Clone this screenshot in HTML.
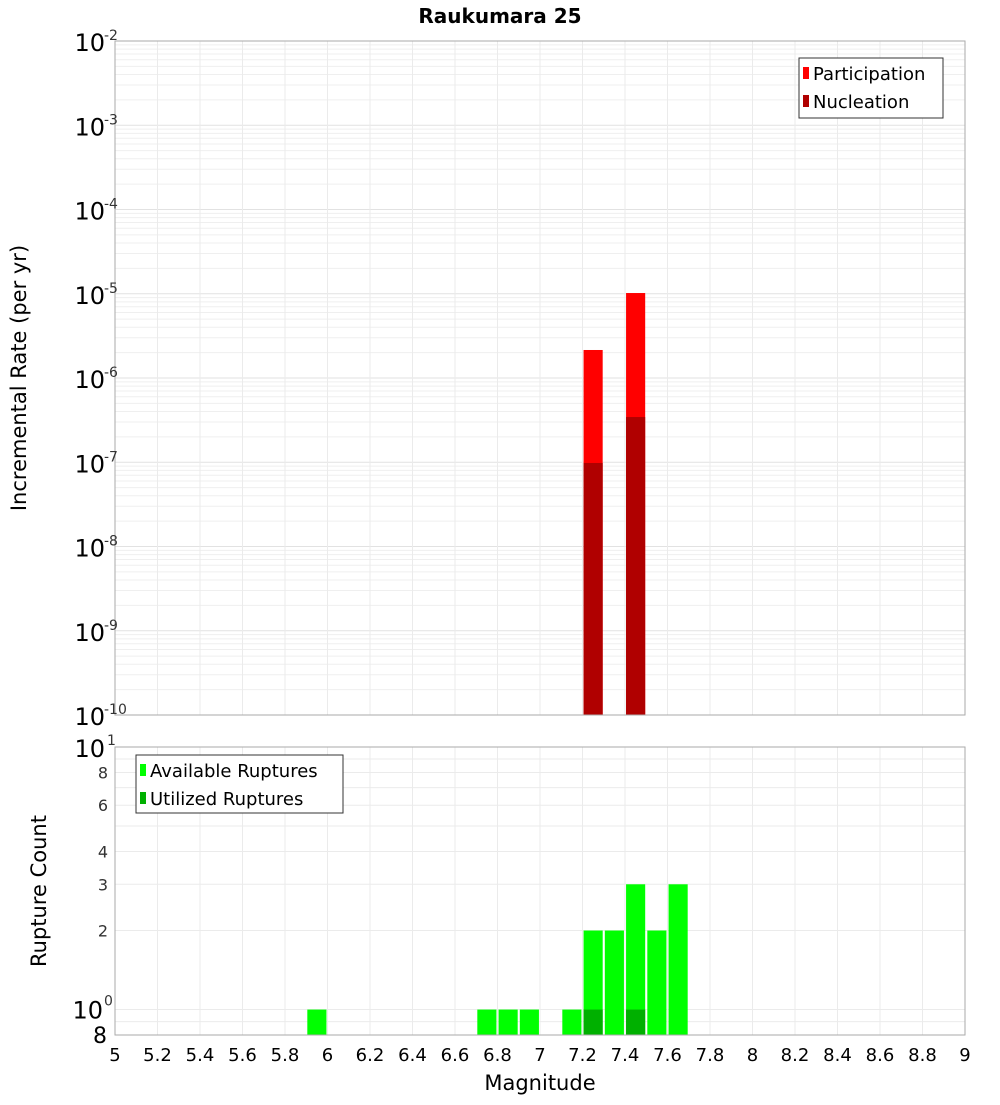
<!DOCTYPE html>
<html><head><meta charset="utf-8"><style>
body{margin:0;background:#fff;font-family:"Liberation Sans","DejaVu Sans",sans-serif;}
svg text{font-family:"DejaVu Sans","Liberation Sans",sans-serif;}
</style></head><body>
<svg id="c" width="1000" height="1100" xmlns="http://www.w3.org/2000/svg">
<text x="500" y="23" text-anchor="middle" font-size="20" font-weight="bold">Raukumara 25</text>
<text transform="translate(26,378) rotate(-90)" text-anchor="middle" font-size="21">Incremental Rate (per yr)</text>
<text transform="translate(46,891) rotate(-90)" text-anchor="middle" font-size="21">Rupture Count</text>
<text x="540" y="1090" text-anchor="middle" font-size="21">Magnitude</text>
<g id="g"></g>
</svg>
<script>
const mags=[5.95,6.75,6.85,6.95,7.15,7.25,7.35,7.45,7.55,7.65];
const available=[1,1,1,1,1,2,2,3,2,3];
const utilMags=[7.25,7.45];
const utilized=[1,1];
const rateMags=[7.25,7.45];
const participation=[2.15e-6,1.02e-5];
const nucleation=[9.8e-8,3.44e-7];
const xTicks=[5,5.2,5.4,5.6,5.8,6,6.2,6.4,6.6,6.8,7,7.2,7.4,7.6,7.8,8,8.2,8.4,8.6,8.8,9];
const xTickLabels=["5","5.2","5.4","5.6","5.8","6","6.2","6.4","6.6","6.8","7","7.2","7.4","7.6","7.8","8","8.2","8.4","8.6","8.8","9"];
const topExps=[-2,-3,-4,-5,-6,-7,-8,-9,-10];
const botTicks=[8,6,4,3,2];

const NS="http://www.w3.org/2000/svg",g=document.getElementById('g');
function el(t,a,txt){const e=document.createElementNS(NS,t);for(const k in a)e.setAttribute(k,a[k]);if(txt!==undefined)e.textContent=txt;g.appendChild(e);return e;}
const L=115,R=965,T1=41,B1=715,T2=747,B2=1035;
const x=v=>L+(v-5)/4*(R-L);
const y1=v=>T1+(-2-Math.log10(v))/8*(B1-T1);
const y2=v=>T2+(1-Math.log10(v))/(1-Math.log10(0.8))*(B2-T2);
const bw=0.09;
// top grid
for(let e=-10;e<-2;e++)for(let m=1;m<10;m++){const v=m*Math.pow(10,e);const yy=y1(v);if(yy<T1||yy>B1)continue;
let l=el('line',{x1:L,x2:R,y1:yy,y2:yy,stroke:m==1?'#e2e2e2':'#efefef','stroke-width':1});
}
for(let i=0;i<xTicks.length;i++){const xx=x(xTicks[i]);
let l=el('line',{x1:xx,x2:xx,y1:T1,y2:B1,stroke:'#ebebeb'});
let l2=el('line',{x1:xx,x2:xx,y1:T2,y2:B2,stroke:'#ebebeb'});}
// bottom grid
for(const v of [0.9,1,2,3,4,5,6,7,8,9]){const yy=y2(v);let l=el('line',{x1:L,x2:R,y1:yy,y2:yy,stroke:'#ebebeb'});}
// top bars
for(let i=0;i<rateMags.length;i++){const x0=x(rateMags[i]-bw/2),w=x(rateMags[i]+bw/2)-x0;
let r=el('rect',{x:x0,y:y1(participation[i]),width:w,height:B1-y1(participation[i]),fill:'#ff0000'});
let n=el('rect',{x:x0,y:y1(nucleation[i]),width:w,height:B1-y1(nucleation[i]),fill:'#b00000'});}
// bottom bars
for(let i=0;i<mags.length;i++){const x0=x(mags[i]-bw/2),w=x(mags[i]+bw/2)-x0;
let r=el('rect',{x:x0,y:y2(available[i]),width:w,height:B2-y2(available[i]),fill:'#00ff00'});}
for(let i=0;i<utilMags.length;i++){const x0=x(utilMags[i]-bw/2),w=x(utilMags[i]+bw/2)-x0;
let r=el('rect',{x:x0,y:y2(utilized[i]),width:w,height:B2-y2(utilized[i]),fill:'#00b000'});}
// frames
let f1=el('rect',{x:L,y:T1,width:R-L,height:B1-T1,fill:'none',stroke:'#aaa'});
let f2=el('rect',{x:L,y:T2,width:R-L,height:B2-T2,fill:'none',stroke:'#aaa'});
// top y labels
for(const e of topExps){const yy=y1(Math.pow(10,e));
let t=el('text',{x:105,y:yy+10,'text-anchor':'end','font-size':24},'10');
let s=el('text',{x:104,y:yy-1,'font-size':14,fill:'#333'},String(e));}
// bottom y labels
let t10=el('text',{x:105,y:y2(10)+10,'text-anchor':'end','font-size':24},'10');
let e10=el('text',{x:107,y:y2(10)-2,'font-size':14,fill:'#333'},'1');
let t1=el('text',{x:103,y:y2(1)+9,'text-anchor':'end','font-size':24},'10');
let e1=el('text',{x:104,y:y2(1)-4,'font-size':14,fill:'#333'},'0');
let t8=el('text',{x:107,y:y2(0.8)+8,'text-anchor':'end','font-size':22},'8');
for(const v of botTicks){let t=el('text',{x:108,y:y2(v)+6,'text-anchor':'end','font-size':16,fill:'#333'},String(v));}
// x labels
for(let i=0;i<xTicks.length;i++){let t=el('text',{x:x(xTicks[i]),y:1061,'text-anchor':'middle','font-size':18},xTickLabels[i]);}
// legends
let lg=el('rect',{x:799,y:58,width:144,height:60,fill:'#fff',stroke:'#333'});
let a=el('rect',{x:803,y:67,width:6,height:12,fill:'#ff0000'});
let at=el('text',{x:813,y:80,'font-size':18},'Participation');
let b=el('rect',{x:803,y:95,width:6,height:12,fill:'#b00000'});
let bt=el('text',{x:813,y:108,'font-size':18},'Nucleation');
let lg2=el('rect',{x:136,y:755,width:207,height:58,fill:'#fff',stroke:'#333'});
let c=el('rect',{x:140,y:764,width:6,height:12,fill:'#00ff00'});
let ct=el('text',{x:150,y:777,'font-size':18},'Available Ruptures');
let d=el('rect',{x:140,y:792,width:6,height:12,fill:'#00b000'});
let dt=el('text',{x:150,y:805,'font-size':18},'Utilized Ruptures');
</script>
</body></html>
